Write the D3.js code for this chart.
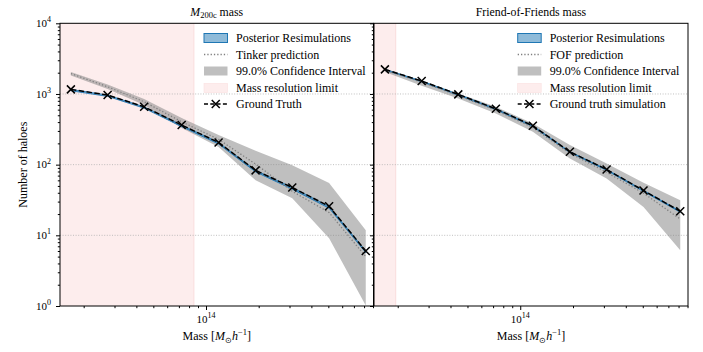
<!DOCTYPE html>
<html><head><meta charset="utf-8">
<script src="https://cdn.jsdelivr.net/npm/d3@7"></script>
<style>body{margin:0;background:#fff} text{font-family:"Liberation Serif",serif;fill:#000}</style>
</head><body><svg id="c" width="703" height="352"></svg>
<script>
// ---------- data ----------
const massBins = [1.69e13, 2.74e13, 4.43e13, 7.26e13, 1.18e14, 1.92e14, 3.11e14, 5.05e14, 8.18e14];

const m200Truth  = [1162, 966, 659, 363, 206, 83, 47.5, 25.8, 6.0];
const m200PostLo = [1110, 925, 630, 345, 196, 79, 45, 24.2, 5.7];
const m200PostHi = [1160, 965, 658, 362, 206, 83, 47.5, 25.6, 6.0];
const tinkerPred = [1945, 1265, 776, 404, 228, 102, 42, 21, 5.0];
const m200CiLo   = [1823, 1173, 697, 329, 177, 60.3, 33.5, 9.1, 1.02];
const m200CiHi   = [2042, 1360, 847, 456, 262, 157, 98.4, 55.2, 11.8];
const m200MassLimit = [1.45e13, 8.53e13];

const fofTruth  = [2230, 1524, 987, 617, 355, 152, 85.5, 43.1, 21.9];
const fofPostLo = [2170, 1485, 960, 600, 345, 148, 83, 41.8, 21.2];
const fofPostHi = [2235, 1528, 990, 619, 356, 152.5, 85.8, 43.2, 22.0];
const fofPred   = [2180, 1470, 950, 590, 335, 145, 78, 39.5, 17];
const fofCiLo   = [2042, 1306, 866, 531, 291, 122, 63.8, 25.2, 6.15];
const fofCiHi   = [2300, 1524, 1019, 659, 383, 189, 104, 55.6, 31.4];
const fofMassLimit = [1.45e13, 1.95e13];

const yMajorTicks = [1, 10, 100, 1000, 10000];
const yTickExps = ["0", "1", "2", "3", "4"];
const xMajorTicks = [1e14];
const xTickExps = ["14"];
const xMinorTicks = [2e13,3e13,4e13,5e13,6e13,7e13,8e13,9e13,2e14,3e14,4e14,5e14,6e14,7e14,8e14,9e14];

const titles = [["M", "200c", " mass"], ["", "", "Friend-of-Friends mass"]];
const legendLabelsL = ["Posterior Resimulations", "Tinker prediction", "99.0% Confidence Interval", "Mass resolution limit", "Ground Truth"];
const legendLabelsR = ["Posterior Resimulations", "FOF prediction", "99.0% Confidence Interval", "Mass resolution limit", "Ground truth simulation"];

// ---------- layout ----------
const svg = d3.select("#c");
const yTop = 23.3, yBot = 306;
const xDom = [Math.pow(10, 13.1657), Math.pow(10, 14.957)];
const y = d3.scaleLog().domain([1, 1e4]).range([yBot, yTop]);
const C0 = "#1f77b4";

const panels = [
  {x0: 60, x1: 373.5, truth: m200Truth, lo: m200PostLo, hi: m200PostHi, pred: tinkerPred, ciLo: m200CiLo, ciHi: m200CiHi, lim: m200MassLimit, legX: 204, labels: legendLabelsL, title: titles[0]},
  {x0: 374, x1: 688, truth: fofTruth, lo: fofPostLo, hi: fofPostHi, pred: fofPred, ciLo: fofCiLo, ciHi: fofCiHi, lim: fofMassLimit, legX: 517.7, labels: legendLabelsR, title: titles[1]}
];

panels.forEach((p, pi) => {
  const x = d3.scaleLog().domain(xDom).range([p.x0, p.x1]);
  const clipId = "clip" + pi;
  svg.append("clipPath").attr("id", clipId).append("rect")
    .attr("x", p.x0).attr("y", yTop).attr("width", p.x1 - p.x0).attr("height", yBot - yTop);
  const g = svg.append("g").attr("clip-path", `url(#${clipId})`);

  g.append("rect").attr("x", x(p.lim[0])).attr("y", yTop - 2)
    .attr("width", x(p.lim[1]) - x(p.lim[0])).attr("height", yBot - yTop + 4)
    .attr("fill", "#fdeded").attr("stroke", "#f8d8d8").attr("stroke-width", 0.8);

  [10, 100, 1000].forEach(v => {
    g.append("line").attr("x1", p.x0).attr("x2", p.x1).attr("y1", y(v)).attr("y2", y(v))
      .attr("stroke", "#b0b0b0").attr("stroke-width", 0.8).attr("stroke-dasharray", "1,1.6");
  });

  const idx = d3.range(massBins.length);
  g.append("path").datum(idx)
    .attr("d", d3.area().x(i => x(massBins[i])).y0(i => y(p.ciLo[i])).y1(i => y(p.ciHi[i])))
    .attr("fill", "#808080").attr("fill-opacity", 0.5);
  g.append("path").datum(idx)
    .attr("d", d3.area().x(i => x(massBins[i])).y0(i => y(p.lo[i])).y1(i => y(p.hi[i])))
    .attr("fill", C0).attr("fill-opacity", 0.5).attr("stroke", C0).attr("stroke-width", 0.9);
  g.append("path").datum(idx)
    .attr("d", d3.line().x(i => x(massBins[i])).y(i => y(p.pred[i])))
    .attr("fill", "none").attr("stroke", "#808080").attr("stroke-width", 1.3).attr("stroke-dasharray", "1.3,2");
  g.append("path").datum(idx)
    .attr("d", d3.line().x(i => x(massBins[i])).y(i => y(p.truth[i])))
    .attr("fill", "none").attr("stroke", "#000").attr("stroke-width", 1.5).attr("stroke-dasharray", "5.5,2.4");
  const s = 4;
  idx.forEach(i => {
    const cx = x(massBins[i]), cy = y(p.truth[i]);
    svg.append("path").attr("d", `M${cx-s},${cy-s}L${cx+s},${cy+s}M${cx-s},${cy+s}L${cx+s},${cy-s}`)
      .attr("stroke", "#000").attr("stroke-width", 1.5).attr("fill", "none");
  });

  svg.append("rect").attr("x", p.x0).attr("y", yTop).attr("width", p.x1 - p.x0).attr("height", yBot - yTop)
    .attr("fill", "none").attr("stroke", "#000").attr("stroke-width", 1);

  svg.append("g").attr("transform", `translate(0,${yBot})`)
    .call(d3.axisBottom(x).tickValues(xMajorTicks).tickSize(4).tickFormat(""))
    .call(a => a.select(".domain").remove());
  svg.append("g").attr("transform", `translate(0,${yBot})`)
    .call(d3.axisBottom(x).tickValues(xMinorTicks.filter(v => x(v) > p.x0 && x(v) < p.x1)).tickSize(2.2).tickFormat(""))
    .call(a => a.select(".domain").remove());
  xMajorTicks.forEach((v, k) => {
    const t = svg.append("text").attr("x", x(v)).attr("y", 323).attr("text-anchor", "middle").attr("font-size", 11);
    t.append("tspan").text("10");
    t.append("tspan").attr("dy", -4.8).attr("font-size", 8).text(xTickExps[k]);
  });
  const xl = svg.append("text").attr("x", (p.x0 + p.x1) / 2).attr("y", 340).attr("text-anchor", "middle").attr("font-size", 12);
  xl.append("tspan").text("Mass [");
  xl.append("tspan").attr("font-style", "italic").text("M");
  xl.append("tspan").attr("dy", 2.5).attr("font-size", 8).text("⊙");
  xl.append("tspan").attr("dy", -2.5).attr("font-style", "italic").text("h");
  xl.append("tspan").attr("dy", -5).attr("font-size", 8.5).text("−1");
  xl.append("tspan").attr("dy", 5).text("]");

  svg.append("g").attr("transform", `translate(${p.x0},0)`)
    .call(d3.axisLeft(y).tickValues(yMajorTicks).tickSize(4).tickFormat(""))
    .call(a => a.select(".domain").remove());
  const yMinor = [];
  [1, 10, 100, 1000].forEach(d => { for (let k = 2; k <= 9; k++) yMinor.push(d * k); });
  svg.append("g").attr("transform", `translate(${p.x0},0)`)
    .call(d3.axisLeft(y).tickValues(yMinor).tickSize(2.2).tickFormat(""))
    .call(a => a.select(".domain").remove());
  if (pi === 0) {
    yMajorTicks.forEach((v, k) => {
      const t = svg.append("text").attr("x", 51).attr("y", y(v) + 3.8).attr("text-anchor", "end").attr("font-size", 11);
      t.append("tspan").text("10");
      t.append("tspan").attr("dy", -4.8).attr("font-size", 8).text(yTickExps[k]);
    });
    svg.append("text").attr("transform", `translate(27,${(yTop + yBot) / 2}) rotate(-90)`)
      .attr("text-anchor", "middle").attr("font-size", 12).text("Number of haloes");
  }

  const tt = svg.append("text").attr("x", (p.x0 + p.x1) / 2).attr("y", 15.5).attr("text-anchor", "middle").attr("font-size", 11.8);
  if (p.title[0]) {
    tt.append("tspan").attr("font-style", "italic").text(p.title[0]);
    tt.append("tspan").attr("dy", 2.5).attr("font-size", 8.5).text(p.title[1]);
    tt.append("tspan").attr("dy", -2.5).text(p.title[2]);
  } else {
    tt.text(p.title[2]);
  }

  const lx = p.legX, sw = 23.5, tx = lx + 32;
  const rows = [38, 54.5, 71, 88, 104];
  const lg = svg.append("g");
  lg.append("rect").attr("x", lx).attr("y", rows[0] - 4.5).attr("width", sw).attr("height", 9)
    .attr("fill", C0).attr("fill-opacity", 0.5).attr("stroke", C0).attr("stroke-width", 1);
  lg.append("line").attr("x1", lx).attr("x2", lx + sw).attr("y1", rows[1]).attr("y2", rows[1])
    .attr("stroke", "#808080").attr("stroke-width", 1.3).attr("stroke-dasharray", "1.3,2");
  lg.append("rect").attr("x", lx).attr("y", rows[2] - 4.5).attr("width", sw).attr("height", 9)
    .attr("fill", "#808080").attr("fill-opacity", 0.5);
  lg.append("rect").attr("x", lx).attr("y", rows[3] - 4.5).attr("width", sw).attr("height", 9)
    .attr("fill", "#fdeded").attr("stroke", "#fae0e0").attr("stroke-width", 0.6);
  lg.append("line").attr("x1", lx).attr("x2", lx + sw).attr("y1", rows[4]).attr("y2", rows[4])
    .attr("stroke", "#000").attr("stroke-width", 1.5).attr("stroke-dasharray", "4,2.3");
  const mx = lx + sw / 2, my = rows[4];
  lg.append("path").attr("d", `M${mx-s},${my-s}L${mx+s},${my+s}M${mx-s},${my+s}L${mx+s},${my-s}`)
    .attr("stroke", "#000").attr("stroke-width", 1.5);
  p.labels.forEach((l, k) => {
    lg.append("text").attr("x", tx).attr("y", rows[k] + 4).attr("font-size", 12).text(l);
  });
});
</script>
</body></html>
